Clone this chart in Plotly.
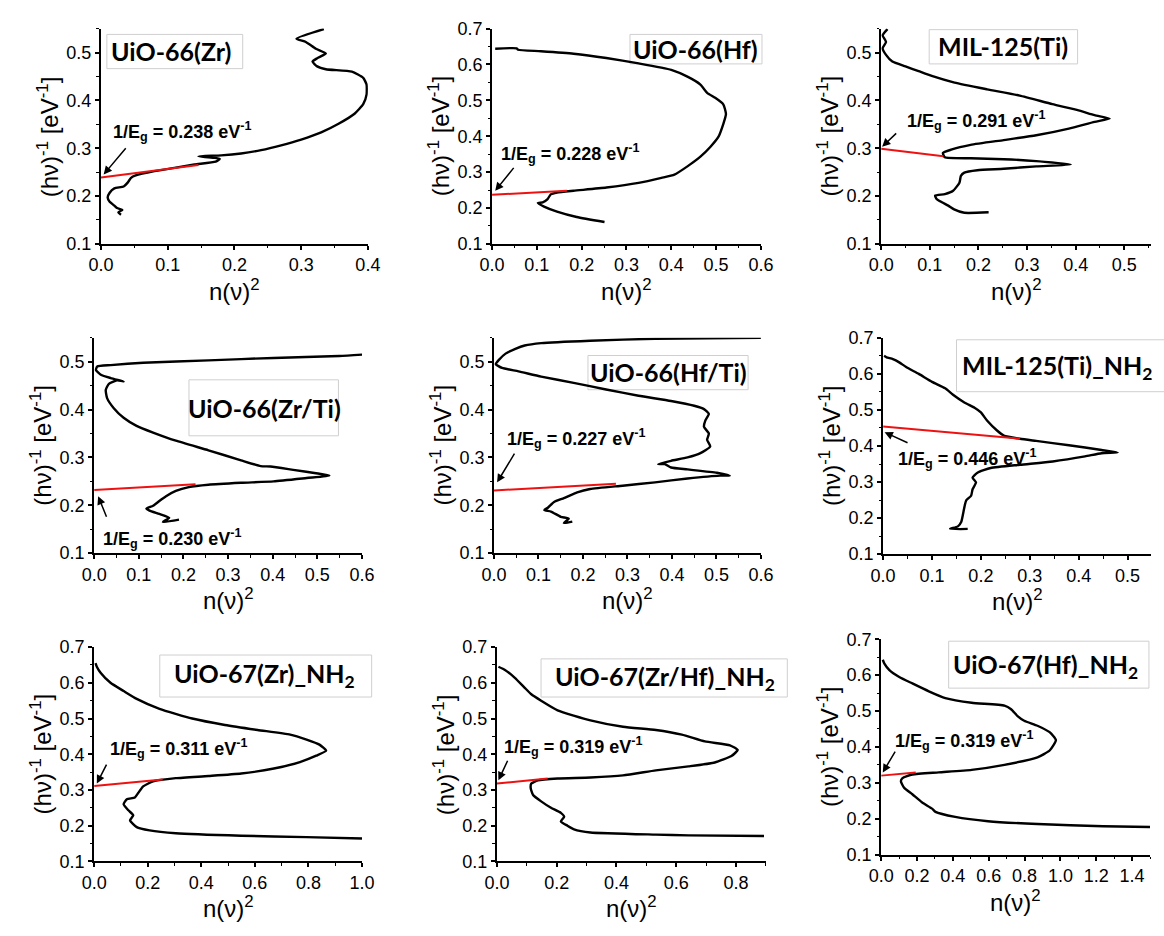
import plotly.graph_objects as go

# ------------------------------------------------------------------ data
titles = ["UiO-66(Zr)", "UiO-66(Hf)", "MIL-125(Ti)",
          "UiO-66(Zr/Ti)", "UiO-66(Hf/Ti)", "MIL-125(Ti)_NH<sub>2</sub>",
          "UiO-67(Zr)_NH<sub>2</sub>", "UiO-67(Zr/Hf)_NH<sub>2</sub>", "UiO-67(Hf)_NH<sub>2</sub>"]
eg_values = ["0.238", "0.228", "0.291", "0.230", "0.227", "0.446", "0.311", "0.319", "0.319"]

# UiO-66(Zr)
zr_x = [0.030, 0.026, 0.032, 0.024, 0.020, 0.013, 0.010, 0.013, 0.020, 0.034, 0.040, 0.045, 0.052, 0.080,
        0.110, 0.140, 0.172, 0.178, 0.146, 0.180, 0.210, 0.240, 0.270, 0.300, 0.330, 0.356, 0.380, 0.393,
        0.398, 0.398, 0.393, 0.376, 0.337, 0.324, 0.317, 0.324, 0.337, 0.322, 0.307, 0.293, 0.334]
zr_y = [0.161, 0.166, 0.171, 0.175, 0.180, 0.188, 0.197, 0.207, 0.216, 0.220, 0.228, 0.238, 0.243, 0.252,
        0.259, 0.266, 0.272, 0.278, 0.283, 0.285, 0.289, 0.296, 0.306, 0.318, 0.333, 0.351, 0.372, 0.392,
        0.412, 0.433, 0.447, 0.460, 0.465, 0.471, 0.481, 0.488, 0.498, 0.508, 0.522, 0.529, 0.549]
zr_red_x = [0.0, 0.146]
zr_red_y = [0.239, 0.265]

# UiO-66(Hf)
hf_x = [0.251, 0.189, 0.145, 0.116, 0.102, 0.113, 0.124, 0.131, 0.145, 0.182, 0.255, 0.327, 0.378, 0.407,
        0.436, 0.465, 0.487, 0.505, 0.516, 0.522, 0.516, 0.498, 0.480, 0.465, 0.436, 0.400, 0.327, 0.255,
        0.182, 0.109, 0.058, 0.055, 0.007]
hf_y = [0.161, 0.175, 0.190, 0.204, 0.214, 0.216, 0.225, 0.238, 0.243, 0.248, 0.257, 0.270, 0.284, 0.293,
        0.316, 0.343, 0.370, 0.398, 0.434, 0.462, 0.489, 0.507, 0.521, 0.544, 0.566, 0.585, 0.603, 0.618,
        0.630, 0.637, 0.641, 0.645, 0.644]
hf_red_x = [0.0, 0.167]
hf_red_y = [0.237, 0.248]

# MIL-125(Ti)
ti_x = [0.221, 0.171, 0.150, 0.138, 0.125, 0.114, 0.111, 0.131, 0.148, 0.161, 0.164, 0.171, 0.198, 0.252,
        0.319, 0.390, 0.319, 0.252, 0.184, 0.131, 0.127, 0.144, 0.184, 0.252, 0.319, 0.386, 0.439, 0.470,
        0.439, 0.406, 0.352, 0.285, 0.218, 0.151, 0.104, 0.077, 0.050, 0.023, 0.010, 0.003, 0.010, 0.003, 0.013]
ti_y = [0.166, 0.165, 0.172, 0.180, 0.187, 0.194, 0.201, 0.204, 0.211, 0.228, 0.242, 0.249, 0.254, 0.257,
        0.262, 0.266, 0.273, 0.277, 0.279, 0.281, 0.290, 0.297, 0.307, 0.317, 0.327, 0.341, 0.355, 0.362,
        0.369, 0.379, 0.392, 0.410, 0.423, 0.437, 0.451, 0.461, 0.471, 0.481, 0.495, 0.509, 0.522, 0.536, 0.549]
ti_red_x = [0.0, 0.128]
ti_red_y = [0.299, 0.283]

# UiO-66(Zr/Ti)
zrti_x = [0.190, 0.154, 0.168, 0.146, 0.124, 0.117, 0.132, 0.146, 0.161, 0.183, 0.212, 0.256, 0.329, 0.402,
          0.476, 0.527, 0.497, 0.446, 0.395, 0.373, 0.329, 0.256, 0.183, 0.132, 0.095, 0.066, 0.044, 0.029,
          0.026, 0.033, 0.051, 0.066, 0.037, 0.015, 0.004, 0.007, 0.037, 0.110, 0.256, 0.402, 0.549, 0.600]
zrti_y = [0.170, 0.165, 0.174, 0.182, 0.189, 0.193, 0.199, 0.209, 0.219, 0.230, 0.238, 0.243, 0.247, 0.250,
          0.257, 0.262, 0.267, 0.274, 0.281, 0.282, 0.294, 0.315, 0.335, 0.352, 0.366, 0.383, 0.403, 0.424,
          0.441, 0.454, 0.461, 0.459, 0.466, 0.473, 0.483, 0.490, 0.493, 0.498, 0.503, 0.508, 0.512, 0.515]
zrti_red_x = [0.0, 0.227]
zrti_red_y = [0.232, 0.244]

# UiO-66(Hf/Ti)
hfti_x = [0.176, 0.157, 0.168, 0.150, 0.128, 0.113, 0.121, 0.135, 0.157, 0.187, 0.216, 0.289, 0.362, 0.435,
          0.508, 0.530, 0.501, 0.435, 0.398, 0.384, 0.369, 0.398, 0.435, 0.464, 0.486, 0.479, 0.483, 0.472,
          0.475, 0.483, 0.472, 0.450, 0.398, 0.325, 0.252, 0.179, 0.106, 0.055, 0.018, 0.004, 0.011, 0.026,
          0.048, 0.069, 0.106, 0.216, 0.362, 0.600]
hfti_y = [0.166, 0.163, 0.172, 0.176, 0.187, 0.190, 0.195, 0.207, 0.215, 0.227, 0.234, 0.241, 0.248, 0.256,
          0.262, 0.262, 0.268, 0.275, 0.279, 0.286, 0.286, 0.293, 0.300, 0.309, 0.323, 0.337, 0.350, 0.364,
          0.377, 0.391, 0.401, 0.408, 0.418, 0.429, 0.442, 0.456, 0.469, 0.480, 0.487, 0.495, 0.504, 0.517,
          0.527, 0.534, 0.539, 0.544, 0.548, 0.550]
hfti_red_x = [0.0, 0.274]
hfti_red_y = [0.231, 0.245]

# MIL-125(Ti)_NH2
tinh_x = [0.173, 0.137, 0.153, 0.160, 0.163, 0.167, 0.170, 0.180, 0.183, 0.190, 0.183, 0.193, 0.220, 0.280,
          0.347, 0.413, 0.447, 0.480, 0.447, 0.380, 0.313, 0.280, 0.247, 0.233, 0.213, 0.200, 0.187, 0.167,
          0.143, 0.127, 0.100, 0.073, 0.047, 0.033, 0.020, 0.007, 0.002]
tinh_y = [0.170, 0.170, 0.177, 0.190, 0.208, 0.235, 0.249, 0.262, 0.280, 0.299, 0.312, 0.326, 0.339, 0.348,
          0.357, 0.371, 0.380, 0.382, 0.389, 0.402, 0.414, 0.420, 0.429, 0.443, 0.470, 0.493, 0.506, 0.520,
          0.542, 0.560, 0.578, 0.600, 0.619, 0.632, 0.641, 0.646, 0.650]
tinh_red_x = [0.0, 0.280]
tinh_red_y = [0.454, 0.420]

# UiO-67(Zr)_NH2
zrnh_x = [1.000, 0.793, 0.549, 0.305, 0.207, 0.159, 0.134, 0.146, 0.128, 0.110, 0.122, 0.152, 0.165, 0.183,
          0.220, 0.305, 0.427, 0.549, 0.671, 0.768, 0.829, 0.866, 0.841, 0.793, 0.732, 0.610, 0.488, 0.366,
          0.244, 0.159, 0.110, 0.061, 0.024, 0.010, 0.005]
zrnh_y = [0.164, 0.168, 0.172, 0.179, 0.187, 0.196, 0.215, 0.229, 0.243, 0.260, 0.274, 0.279, 0.292, 0.310,
          0.324, 0.333, 0.339, 0.346, 0.360, 0.378, 0.396, 0.410, 0.427, 0.441, 0.455, 0.468, 0.482, 0.500,
          0.527, 0.555, 0.577, 0.600, 0.628, 0.645, 0.655]
zrnh_red_x = [0.0, 0.256]
zrnh_red_y = [0.311, 0.329]

# UiO-67(Zr/Hf)_NH2
zrhf_x = [0.894, 0.641, 0.532, 0.313, 0.258, 0.236, 0.214, 0.225, 0.214, 0.181, 0.148, 0.121, 0.113, 0.115,
          0.137, 0.203, 0.313, 0.422, 0.532, 0.641, 0.729, 0.785, 0.806, 0.780, 0.696, 0.619, 0.532, 0.422,
          0.313, 0.203, 0.148, 0.115, 0.093, 0.060, 0.027, 0.005]
zrhf_y = [0.171, 0.173, 0.175, 0.181, 0.190, 0.200, 0.212, 0.225, 0.236, 0.250, 0.268, 0.286, 0.305, 0.318,
          0.327, 0.332, 0.335, 0.341, 0.355, 0.366, 0.377, 0.395, 0.412, 0.425, 0.436, 0.455, 0.468, 0.477,
          0.495, 0.523, 0.550, 0.568, 0.586, 0.614, 0.636, 0.645]
zrhf_red_x = [0.0, 0.170]
zrhf_red_y = [0.318, 0.332]

# UiO-67(Hf)_NH2
hfnh_x = [1.500, 1.239, 0.872, 0.596, 0.413, 0.303, 0.284, 0.229, 0.174, 0.128, 0.110, 0.119, 0.174, 0.321,
          0.505, 0.688, 0.872, 0.940, 0.975, 0.940, 0.872, 0.798, 0.761, 0.725, 0.688, 0.505, 0.358, 0.266,
          0.174, 0.101, 0.046, 0.018, 0.009]
hfnh_y = [0.177, 0.179, 0.185, 0.193, 0.205, 0.219, 0.228, 0.245, 0.268, 0.286, 0.304, 0.313, 0.323, 0.329,
          0.336, 0.350, 0.371, 0.390, 0.419, 0.441, 0.459, 0.473, 0.486, 0.505, 0.515, 0.523, 0.536, 0.555,
          0.577, 0.595, 0.614, 0.632, 0.643]
hfnh_red_x = [0.0, 0.193]
hfnh_red_y = [0.320, 0.329]

curves = [(zr_x, zr_y), (hf_x, hf_y), (ti_x, ti_y), (zrti_x, zrti_y), (hfti_x, hfti_y),
          (tinh_x, tinh_y), (zrnh_x, zrnh_y), (zrhf_x, zrhf_y), (hfnh_x, hfnh_y)]
reds = [(zr_red_x, zr_red_y), (hf_red_x, hf_red_y), (ti_red_x, ti_red_y), (zrti_red_x, zrti_red_y),
        (hfti_red_x, hfti_red_y), (tinh_red_x, tinh_red_y), (zrnh_red_x, zrnh_red_y),
        (zrhf_red_x, zrhf_red_y), (hfnh_red_x, hfnh_red_y)]

# ------------------------------------------------------------------ layout
W, H = 1164, 936
# pixel boxes of plot areas: (left, right, top, bottom)
areas = [(90, 363, 19, 239), (490, 765, 19, 239), (888, 1164, 19, 239),
         (83, 357, 335, 555), (492, 765, 335, 555), (890, 1164, 335, 556),
         (83, 357, 651, 870), (495, 770, 651, 870), (888, 1163, 643, 863)]
xranges = [[0, 0.4], [0, 0.6], [0, 0.555], [0, 0.6], [0, 0.6], [0, 0.548], [0, 1.0], [0, 0.9], [0, 1.5]]
yranges = [[0.1, 0.55], [0.1, 0.7], [0.1, 0.55], [0.1, 0.55], [0.1, 0.55], [0.1, 0.7],
           [0.1, 0.7], [0.1, 0.7], [0.1, 0.7]]
xdticks = [0.1, 0.1, 0.1, 0.1, 0.1, 0.1, 0.2, 0.2, 0.2]

# label boxes in axis-domain fractions (x0, x1, y0, y1) and label text centre
boxes = [(0.022, 0.531, 0.814, 0.973), (0.513, 1.004, 0.836, 0.973), (0.178, 0.728, 0.836, 0.995),
         (0.354, 0.912, 0.545, 0.805), (0.352, 0.952, 0.759, 0.918), (0.274, 1.10, 0.751, 0.991),
         (0.245, 1.036, 0.767, 0.963), (0.164, 1.08, 0.767, 0.945), (0.251, 0.996, 0.773, 0.991)]
label_pos = [(0.264, 0.895), (0.757, 0.905), (0.453, 0.918), (0.635, 0.673), (0.652, 0.841),
             (0.65, 0.864), (0.635, 0.868), (0.625, 0.854), (0.611, 0.877)]

# Eg text anchor (data) and arrows (tail -> tip, data)
eg_text_pos = [(0.015, 0.334), (0.015, 0.352), (0.05, 0.357), (0.015, 0.131), (0.024, 0.339),
               (0.026, 0.366), (0.051, 0.415), (0.016, 0.421), (0.065, 0.418)]
arrows = [((0.039, 0.303), (0.004, 0.245)), ((0.051, 0.316), (0.007, 0.248)),
          ((0.034, 0.334), (0.002, 0.303)), ((0.029, 0.173), (0.009, 0.219)),
          ((0.048, 0.311), (0.007, 0.248)), ((0.053, 0.407), (0.003, 0.438)),
          ((0.049, 0.375), (0.010, 0.318)), ((0.038, 0.386), (0.005, 0.327)),
          ((0.083, 0.391), (0.009, 0.329))]

AX_FONT = "Liberation Sans, Arial, sans-serif"
LBL_FONT = "Lato, Open Sans, sans-serif"

fig = go.Figure()
annotations = []
shapes = []
layout = dict(width=W, height=H, autosize=False, margin=dict(l=0, r=0, t=0, b=0, pad=0),
              paper_bgcolor="white", plot_bgcolor="white", showlegend=False)

for i in range(9):
    s = "" if i == 0 else str(i + 1)
    xa, ya = "x" + s, "y" + s
    cx, cy = curves[i]
    rx, ry = reds[i]
    fig.add_trace(go.Scatter(x=cx, y=cy, mode="lines", xaxis=xa, yaxis=ya,
                             line=dict(color="black", width=2.4, shape="spline", smoothing=0.5)))
    fig.add_trace(go.Scatter(x=rx, y=ry, mode="lines", xaxis=xa, yaxis=ya,
                             line=dict(color="#ee1111", width=2)))
    l, r, t, b = areas[i]
    common = dict(showline=True, linecolor="black", linewidth=2, mirror=False,
                  showgrid=False, zeroline=False, ticks="outside", ticklen=4, tickwidth=1.5,
                  tickcolor="black", tickfont=dict(family=AX_FONT, size=18, color="black"),
                  tickformat=".1f", fixedrange=True)
    layout["xaxis" + s] = dict(domain=[l / W, r / W], range=xranges[i], anchor=ya, tick0=0,
                               dtick=xdticks[i],
                               minor=dict(ticks="outside", ticklen=2.5, tickwidth=1.2,
                                          tickcolor="black", dtick=xdticks[i] / 2),
                               **common)
    layout["yaxis" + s] = dict(domain=[1 - b / H, 1 - t / H], range=yranges[i], anchor=xa, tick0=0.1,
                               dtick=0.1,
                               minor=dict(ticks="outside", ticklen=2.5, tickwidth=1.2,
                                          tickcolor="black", dtick=0.05),
                               **common)
    # axis titles
    annotations.append(dict(text="n(ν)<sup>2</sup>", xref=xa + " domain", yref=ya + " domain",
                            x=0.5, y=0, xanchor="center", yanchor="middle", yshift=-46,
                            showarrow=False, font=dict(family=AX_FONT, size=24, color="black")))
    annotations.append(dict(text="(hν)<sup>-1</sup> [eV<sup>-1</sup>]", xref=xa + " domain",
                            yref=ya + " domain", x=0, y=0.5, xanchor="center", yanchor="middle",
                            xshift=-53, textangle=-90, showarrow=False,
                            font=dict(family=AX_FONT, size=24, color="black")))
    # label box
    bx0, bx1, by0, by1 = boxes[i]
    shapes.append(dict(type="rect", xref=xa + " domain", yref=ya + " domain",
                       x0=bx0, x1=bx1, y0=by0, y1=by1, line=dict(color="#cfcfcf", width=1),
                       fillcolor="white", layer="below"))
    lx, ly = label_pos[i]
    annotations.append(dict(text="<b>" + titles[i] + "</b>", xref=xa + " domain", yref=ya + " domain",
                            x=lx, y=ly, xanchor="center", yanchor="middle", showarrow=False,
                            font=dict(family=LBL_FONT, size=25, color="black")))
    # Eg annotation
    ex, ey = eg_text_pos[i]
    annotations.append(dict(text="<b>1/E<sub>g</sub> = " + eg_values[i] + " eV<sup>-1</sup></b>",
                            xref=xa, yref=ya, x=ex, y=ey, xanchor="left", yanchor="middle",
                            showarrow=False, font=dict(family=AX_FONT, size=18, color="black")))
    (tx, ty), (hx, hy) = arrows[i]
    annotations.append(dict(text="", xref=xa, yref=ya, x=hx, y=hy, ax=tx, ay=ty,
                            axref=xa, ayref=ya, showarrow=True, arrowhead=2, arrowsize=1.1,
                            arrowwidth=1.5, arrowcolor="black", standoff=0))

layout["annotations"] = annotations
layout["shapes"] = shapes
fig.update_layout(**layout)
fig.write_html("out.html",
               config={"displayModeBar": False, "responsive": False},
               post_script="document.body.style.margin='0px';document.body.style.overflow='hidden';")
